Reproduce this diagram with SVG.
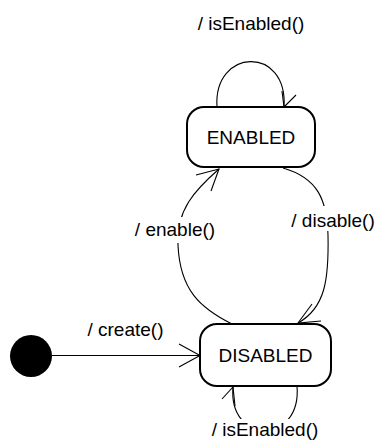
<svg xmlns="http://www.w3.org/2000/svg" width="377" height="441" viewBox="0 0 377 441">
  <style>
    .state { fill: #ffffff; stroke: #000000; stroke-width: 2; }
    .initial { fill: #000000; stroke: none; }
    .edge { fill: none; stroke: #000000; stroke-width: 1.1; }
    .head { fill: none; stroke: #000000; stroke-width: 1.1; stroke-linejoin: miter; }
    .lbl-bg { fill: #ffffff; stroke: none; }
    text { font-family: "Liberation Sans", Arial, sans-serif; font-size: 19px; fill: #000000; text-anchor: middle; }
  </style>

  <!-- transitions -->
  <g id="connectors">
    <!-- initial -> DISABLED -->
    <g id="t-create">
      <path class="edge" d="M52,355.5 L200,355.5"/>
      <path class="head" d="M179,344 L200,355.5 L179,367"/>
      <text x="125.5" y="336">/ create()</text>
    </g>
    <!-- ENABLED self loop -->
    <g id="t-enabled-loop">
      <path class="edge" d="M217,107 C213,48 288,45 284,107"/>
      <path class="head" d="M282,91 L284,107 L296,95"/>
      <text x="251" y="29.5">/ isEnabled()</text>
    </g>
    <!-- DISABLED -> ENABLED -->
    <g id="t-enable">
      <path class="edge" d="M232,324 C200,308 180,290 178,245 C176,210 195,190 219,169"/>
      <path class="head" d="M196,175 L219,169 L211,191"/>
      <rect class="lbl-bg" x="133" y="217" width="84" height="26"/>
      <text x="175" y="236">/ enable()</text>
    </g>
    <!-- ENABLED -> DISABLED -->
    <g id="t-disable">
      <path class="edge" d="M283,168 C318,178 327,200 328,235 C329,280 325,308 298,323"/>
      <path class="head" d="M312,304 L298,323 L321,321"/>
      <rect class="lbl-bg" x="289" y="206" width="88" height="25"/>
      <text x="333" y="226.5">/ disable()</text>
    </g>
    <!-- DISABLED self loop -->
    <g id="t-disabled-loop">
      <path class="edge" d="M297,386 C302,445 228,445 233,387"/>
      <path class="head" d="M222,399 L233,387 L235,406"/>
      <rect class="lbl-bg" x="208" y="419" width="114" height="22"/>
      <text x="265" y="436">/ isEnabled()</text>
    </g>
  </g>

  <!-- states -->
  <g id="initial">
    <circle class="initial" cx="31" cy="356" r="21"/>
  </g>
  <g id="enabled">
    <rect class="state" x="187" y="107" width="128" height="60" rx="17" ry="17"/>
    <text x="251" y="144">ENABLED</text>
  </g>
  <g id="disabled">
    <rect class="state" x="200" y="324" width="131" height="62" rx="17" ry="17"/>
    <text x="265.5" y="362">DISABLED</text>
  </g>
</svg>
